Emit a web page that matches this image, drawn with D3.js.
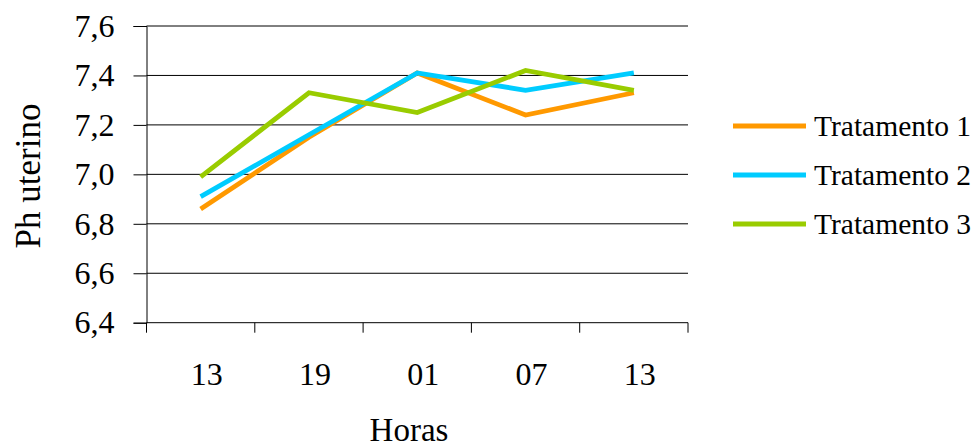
<!DOCTYPE html>
<html>
<head>
<meta charset="utf-8">
<script src="https://cdn.jsdelivr.net/npm/d3@7"></script>
<style>
  html, body { margin: 0; padding: 0; background: #fff; }
  svg { display: block; }
  svg text { font-family: "Liberation Serif", "Times New Roman", serif; fill: #000; }
</style>
</head>
<body>
<svg id="chart" width="974" height="447"></svg>
<script>
// Hours of measurement
const horas = ["13", "19", "01", "07", "13"];
// Uterine pH per treatment
const tratamento1 = [6.86, 7.15, 7.41, 7.24, 7.33];
const tratamento2 = [6.91, 7.16, 7.41, 7.34, 7.41];
const tratamento3 = [6.99, 7.33, 7.25, 7.42, 7.34];
const seriesNames = ["Tratamento 1", "Tratamento 2", "Tratamento 3"];
const seriesColors = ["#FF9900", "#00CCFF", "#99CC00"];
const yTicks = [6.4, 6.6, 6.8, 7.0, 7.2, 7.4, 7.6];

const series = [tratamento1, tratamento2, tratamento3].map((vals, i) => ({
  name: seriesNames[i], color: seriesColors[i], values: vals
}));

const svg = d3.select("#chart");
const plotLeft = 146.5, plotRight = 688, plotTop = 26, plotBottom = 322.7;

// Categories are indexed so the repeated "13" gets its own band
const x = d3.scaleBand().domain(d3.range(horas.length)).range([plotLeft, plotRight]);
const y = d3.scaleLinear().domain([6.4, 7.6]).range([plotBottom, plotTop]);
const fmt = v => d3.format(".1f")(v).replace(".", ",");

// Horizontal gridlines
svg.append("g").selectAll("line").data(yTicks.filter(v => v > 6.4)).join("line")
  .attr("x1", plotLeft).attr("x2", plotRight)
  .attr("y1", d => y(d)).attr("y2", d => y(d))
  .attr("stroke", "#000").attr("stroke-width", 1);

// Y axis
const yAxis = svg.append("g").attr("transform", `translate(${plotLeft},0)`)
  .call(d3.axisLeft(y).tickValues(yTicks).tickFormat(fmt).tickSize(13).tickPadding(19));
yAxis.attr("font-family", null).attr("font-size", null);
yAxis.select(".domain").attr("stroke", "#000");
yAxis.selectAll(".tick line").attr("stroke", "#000");
yAxis.selectAll("text").attr("font-size", 32).attr("fill", "#000");

// X axis: ticks sit on band boundaries, labels in band centers
const xAxisG = svg.append("g").attr("transform", `translate(0,${plotBottom})`);
xAxisG.append("line").attr("x1", plotLeft).attr("x2", plotRight).attr("stroke", "#000");
const bounds = d3.range(horas.length + 1).map(i => i < horas.length ? x(i) : x(i - 1) + x.bandwidth());
xAxisG.selectAll("line.tk").data(bounds).join("line").attr("class", "tk")
  .attr("x1", d => d).attr("x2", d => d).attr("y1", 0).attr("y2", 10).attr("stroke", "#000");
xAxisG.selectAll("text").data(horas).join("text")
  .attr("x", (d, i) => x(i) + x.bandwidth() / 2 + 6).attr("y", 62)
  .attr("text-anchor", "middle").attr("font-size", 32)
  .text(d => d);

// Axis titles
svg.append("text").attr("x", 409).attr("y", 441)
  .attr("text-anchor", "middle").attr("font-size", 33).text("Horas");
svg.append("text").attr("transform", `translate(40,176) rotate(-90)`)
  .attr("text-anchor", "middle").attr("font-size", 35).text("Ph uterino");

// Lines
const line = d3.line().x((d, i) => x(i) + x.bandwidth() / 2).y(d => y(d));
svg.append("g").selectAll("path").data(series).join("path")
  .attr("d", d => line(d.values))
  .attr("fill", "none").attr("stroke", d => d.color)
  .attr("stroke-width", 4.8).attr("stroke-linejoin", "miter");

// Legend
const legend = svg.append("g").selectAll("g").data(series).join("g")
  .attr("transform", (d, i) => `translate(733,${126 + i * 49})`);
legend.append("line").attr("x1", 0).attr("x2", 73)
  .attr("stroke", d => d.color).attr("stroke-width", 5);
legend.append("text").attr("x", 81).attr("y", 10)
  .attr("font-size", 29.5).text(d => d.name);
</script>
</body>
</html>
